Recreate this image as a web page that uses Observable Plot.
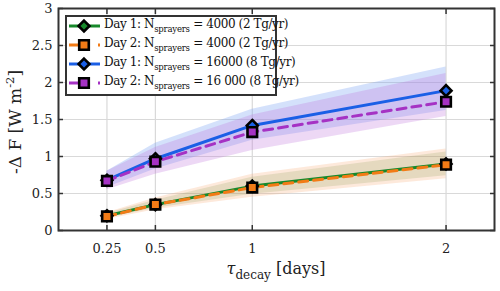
<!DOCTYPE html>
<html>
<head>
<meta charset="utf-8">
<script src="https://cdn.jsdelivr.net/npm/d3@7"></script>
<script src="https://cdn.jsdelivr.net/npm/@observablehq/plot@0.6"></script>
<style>
  body { margin: 0; background: #fff; }
  #chart { position: relative; width: 500px; height: 291px; font-family: "DejaVu Serif", serif; }
  #legend {
    position: absolute; left: 65px; top: 15px; width: 208px; height: 77px;
    background: #fff; border: 2px solid #333; padding: 0;
  }
  .row { position: absolute; left: 0; height: 19px; display: flex; align-items: center; white-space: nowrap; }
  .row svg { display: block; margin-left: 1px; }
  .row span { font-size: 12px; color: #111; margin-left: 3px; line-height: 1; letter-spacing: -0.4px; }
  .row span span { margin-left: 0; }
  .row sub { font-size: 8.5px; vertical-align: -4px; letter-spacing: -0.2px; }
</style>
</head>
<body>
<div id="chart"></div>
<script>
// decay timescale (days)
const tau = [0.25, 0.5, 1, 2];
const yTicks = [0, 0.5, 1, 1.5, 2, 2.5, 3];

// -ΔF (W m^-2) with spread envelopes
const day1N4000 = [0.20, 0.35, 0.60, 0.90];
const day1N4000Low = [0.17, 0.30, 0.49, 0.74];
const day1N4000High = [0.23, 0.41, 0.72, 1.06];

const day2N4000 = [0.19, 0.35, 0.58, 0.89];
const day2N4000Low = [0.15, 0.28, 0.45, 0.70];
const day2N4000High = [0.24, 0.44, 0.76, 1.10];

const day1N16000 = [0.68, 0.97, 1.42, 1.89];
const day1N16000Low = [0.58, 0.83, 1.22, 1.62];
const day1N16000High = [0.80, 1.18, 1.64, 2.21];

const day2N16000 = [0.67, 0.93, 1.33, 1.74];
const day2N16000Low = [0.55, 0.76, 1.08, 1.54];
const day2N16000High = [0.80, 1.12, 1.56, 2.12];

const series = [
  {key: "d1a", label: ["Day 1: N", "sprayers", " = 4000 (2 Tg/yr)"], color: "#17892b", band: "#3f7f1c", bandOpacity: 0.16, dash: null, symbol: "diamond2", v: day1N4000, lo: day1N4000Low, hi: day1N4000High},
  {key: "d2a", label: ["Day 2: N", "sprayers", " = 4000 (2 Tg/yr)"], color: "#f27b16", band: "#f7a468", bandOpacity: 0.24, dash: "9,6", symbol: "square", v: day2N4000, lo: day2N4000Low, hi: day2N4000High},
  {key: "d1b", label: ["Day 1: N", "sprayers", " = 16000 (8 Tg/yr)"], color: "#1a5fe6", band: "#7aa3f3", bandOpacity: 0.32, dash: null, symbol: "diamond2", v: day1N16000, lo: day1N16000Low, hi: day1N16000High},
  {key: "d2b", label: ["Day 2: N", "sprayers", " = 16 000 (8 Tg/yr)"], color: "#a532c4", band: "#bd72dc", bandOpacity: 0.28, dash: "9,6", symbol: "square", v: day2N16000, lo: day2N16000Low, hi: day2N16000High}
];

const rows = s => tau.map((t, i) => ({t, v: s.v[i], lo: s.lo[i], hi: s.hi[i]}));

const bandMarks = series.map(s =>
  Plot.areaY(rows(s), {x: "t", y1: "lo", y2: "hi", fill: s.band, fillOpacity: s.bandOpacity}));
const lineMarks = series.map(s =>
  Plot.line(rows(s), {x: "t", y: "v", stroke: s.color, strokeWidth: 3, strokeDasharray: s.dash}));
const dotMarks = series.map(s =>
  Plot.dot(rows(s), {x: "t", y: "v", symbol: s.symbol, r: s.symbol === "square" ? 5.4 : 4.9,
    fill: s.color, stroke: "#000", strokeWidth: 2.6}));

const fmt = d => String(d);
const chart = Plot.plot({
  width: 500,
  height: 291,
  marginLeft: 58,
  marginRight: 6,
  marginTop: 8,
  marginBottom: 61,
  x: {domain: [0, 2.25]},
  y: {domain: [0, 3]},
  style: {fontFamily: "DejaVu Serif, serif", fontSize: "13px", color: "#222", background: "#fff"},
  marks: [
    Plot.gridX(tau, {stroke: "#d9d9d9", strokeOpacity: 1, strokeWidth: 1.2}),
    Plot.gridY(yTicks, {stroke: "#d9d9d9", strokeOpacity: 1, strokeWidth: 1.2}),
    ...bandMarks,
    ...lineMarks,
    ...dotMarks,
    Plot.frame({stroke: "#333", strokeWidth: 2}),
    Plot.axisX(tau, {anchor: "bottom", tickSize: 0, tickPadding: 13, tickFormat: fmt, label: null, fontSize: 13}),
    Plot.axisY(yTicks, {anchor: "left", tickSize: 0, tickPadding: 6, tickFormat: fmt, label: null, fontSize: 13}),
    Plot.axisX(tau, {anchor: "bottom", tickSize: -5, text: null, label: null, stroke: "#333", strokeWidth: 1.5}),
    Plot.axisX(tau, {anchor: "top", tickSize: -5, text: null, label: null, stroke: "#333", strokeWidth: 1.5}),
    Plot.axisY(yTicks, {anchor: "left", tickSize: -5, text: null, label: null, stroke: "#333", strokeWidth: 1.5}),
    Plot.axisY(yTicks, {anchor: "right", tickSize: -5, text: null, label: null, stroke: "#333", strokeWidth: 1.5})
  ]
});

const root = document.getElementById("chart");
root.appendChild(chart);

// axis titles with sub/superscripts
const svg = d3.select(chart);
const xt = svg.append("text")
  .attr("x", 276).attr("y", 274)
  .attr("text-anchor", "middle")
  .attr("font-family", "DejaVu Serif, serif")
  .attr("font-size", 16).attr("fill", "#222");
xt.append("tspan").attr("font-style", "italic").text("τ");
xt.append("tspan").attr("font-size", 12).attr("dy", 5).text("decay");
xt.append("tspan").attr("dy", -5).text(" [days]");

const yt = svg.append("text")
  .attr("transform", "translate(21,122) rotate(-90)")
  .attr("text-anchor", "middle")
  .attr("font-family", "DejaVu Serif, serif")
  .attr("font-size", 17).attr("fill", "#222");
yt.append("tspan").text("-Δ F [W m");
yt.append("tspan").attr("font-size", 11.5).attr("dy", -7).text("-2");
yt.append("tspan").attr("dy", 7).text("]");

// legend
const legend = d3.select(root).append("div").attr("id", "legend");
series.forEach((s, i) => {
  const row = legend.append("div").attr("class", "row").style("top", (i * 19 - 0.5) + "px");
  const sw = row.append("svg").attr("width", 33).attr("height", 16);
  sw.append("line").attr("x1", 1).attr("x2", 32).attr("y1", 8).attr("y2", 8)
    .attr("stroke", s.color).attr("stroke-width", 3)
    .attr("stroke-dasharray", s.dash ? "9,20,2" : null);
  const sym = s.symbol === "square" ? d3.symbolSquare : d3.symbolDiamond2;
  const r = s.symbol === "square" ? 5.4 : 4.9;
  sw.append("path").attr("transform", "translate(16,8)")
    .attr("d", d3.symbol(sym, Math.PI * r * r)())
    .attr("fill", s.color).attr("stroke", "#000").attr("stroke-width", 2.6);
  const sp = row.append("span");
  sp.append("span").text(s.label[0]);
  sp.append("sub").text(s.label[1]);
  sp.append("span").text(s.label[2]);
});
</script>
</body>
</html>
